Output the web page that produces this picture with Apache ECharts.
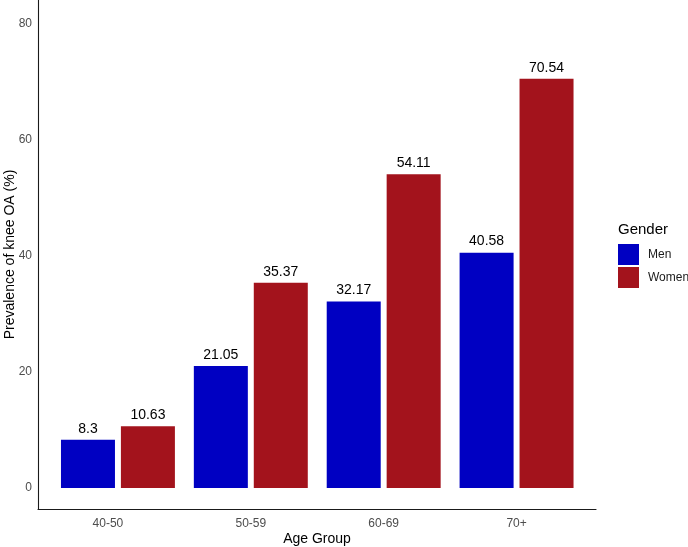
<!DOCTYPE html>
<html><head><meta charset="utf-8">
<script src="https://cdn.jsdelivr.net/npm/echarts@6/dist/echarts.min.js"></script>
<style>html,body{margin:0;padding:0;background:#fff}#c{width:688px;height:547px}</style>
</head><body><div id="c"></div>
<script>
var categories = ['40-50', '50-59', '60-69', '70+'];
var menValues = [8.3, 21.05, 32.17, 40.58];
var womenValues = [10.63, 35.37, 54.11, 70.54];
var yTicks = [0, 20, 40, 60, 80];
var seriesNames = ['Men', 'Women'];

var FONT = '"Liberation Sans", Arial, sans-serif';
var chart = echarts.init(document.getElementById('c'), null, {renderer: 'canvas'});
var lbl = {show: true, position: 'top', distance: 4, color: '#000', fontSize: 14, fontFamily: FONT};
chart.setOption({
  animation: false,
  backgroundColor: '#fff',
  title: {text: 'Gender', left: 613, top: 217, textStyle: {fontSize: 15, fontWeight: 'normal', color: '#000', fontFamily: FONT}},
  legend: {
    orient: 'vertical', left: 613, top: 239, itemWidth: 21, itemHeight: 21, itemGap: 2,
    icon: 'rect', data: seriesNames,
    textStyle: {fontSize: 12, color: '#1a1a1a', fontFamily: FONT, padding: [0, 0, 0, 4]}
  },
  grid: [
    {left: 51.5, right: 105, top: 24, bottom: 59, outerBoundsMode: 'none', containLabel: false},
    {left: 38, right: 92, top: 0, bottom: 38, outerBoundsMode: 'none', containLabel: false}
  ],
  xAxis: [
    {type: 'category', gridIndex: 0, data: categories,
     axisLine: {show: false}, axisTick: {show: false},
     axisLabel: {margin: 30, fontSize: 12, color: '#4d4d4d', fontFamily: FONT,
       formatter: function (v, i) { return i === 0 ? '{p|' + v + '}' : v; },
       rich: {p: {fontSize: 12, color: '#4d4d4d', fontFamily: FONT, padding: [0, 20, 0, 0]}}}},
    {type: 'value', gridIndex: 1, min: 0, max: 1,
     axisLine: {show: true, onZero: false, lineStyle: {color: '#1a1a1a', width: 1.1}},
     axisTick: {show: false}, axisLabel: {show: false}, splitLine: {show: false},
     name: 'Age Group', nameLocation: 'middle', nameGap: 23,
     nameTextStyle: {fontSize: 14, color: '#000', fontFamily: FONT}}
  ],
  yAxis: [
    {type: 'value', gridIndex: 0, min: yTicks[0], max: yTicks[yTicks.length - 1], interval: 20,
     axisLine: {show: false}, axisTick: {show: false}, splitLine: {show: false},
     axisLabel: {margin: 19.5, fontSize: 12, color: '#4d4d4d', fontFamily: FONT}},
    {type: 'value', gridIndex: 1, min: 0, max: 1,
     axisLine: {show: true, onZero: false, lineStyle: {color: '#1a1a1a', width: 1.1}},
     axisTick: {show: false}, axisLabel: {show: false}, splitLine: {show: false},
     name: 'Prevalence of knee OA (%)', nameLocation: 'middle', nameGap: 21, nameRotate: 90,
     nameTextStyle: {fontSize: 14, color: '#000', fontFamily: FONT}}
  ],
  series: [
    {name: seriesNames[0], type: 'bar', xAxisIndex: 0, yAxisIndex: 0, data: menValues,
     barWidth: 54, barGap: '11%', itemStyle: {color: '#0000C2'}, label: lbl},
    {name: seriesNames[1], type: 'bar', xAxisIndex: 0, yAxisIndex: 0, data: womenValues,
     barWidth: 54, barGap: '11%', itemStyle: {color: '#A3131C'}, label: lbl}
  ]
});
</script></body></html>
